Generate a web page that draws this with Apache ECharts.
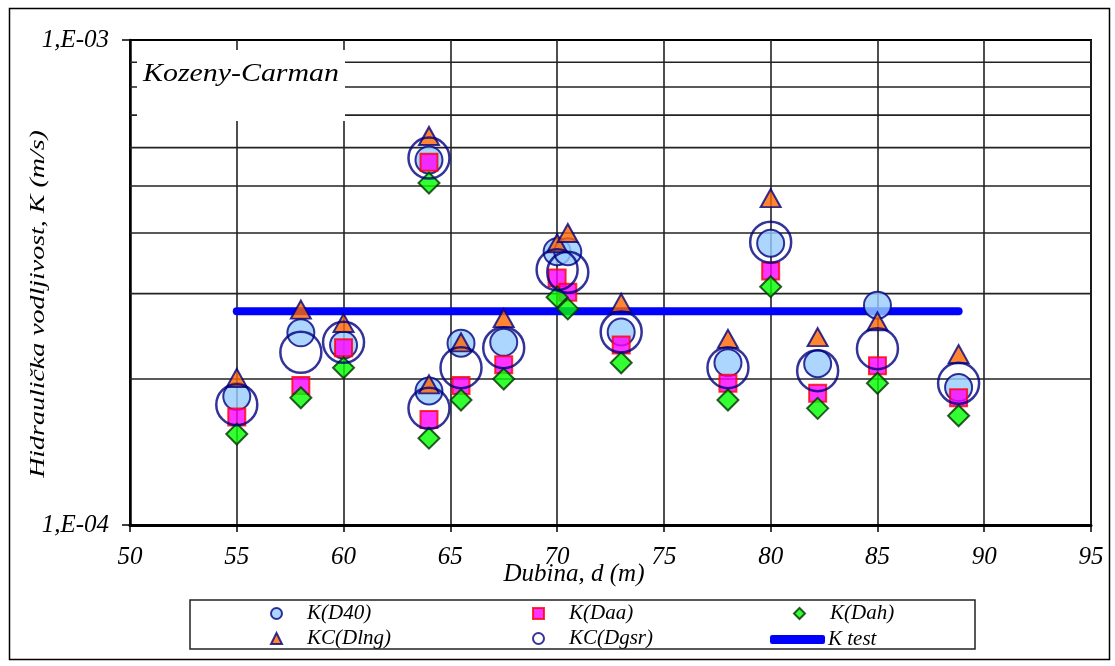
<!DOCTYPE html>
<html>
<head>
<meta charset="utf-8">
<script src="https://cdn.jsdelivr.net/npm/echarts@6/dist/echarts.min.js"></script>
<style>
html,body{margin:0;padding:0;background:#fff;}
#chart{width:1115px;height:666px;}
</style>
</head>
<body>
<div id="chart"></div>
<script>
// ---- data ----
const depth  = [55, 58, 60, 64, 64, 65.5, 67.5, 70, 70.5, 73, 78, 80, 82.2, 85, 88.8];
const kD40   = [1.84e-4, 2.49e-4, 2.35e-4, 1.89e-4, 5.66e-4, 2.37e-4, 2.38e-4, 3.66e-4, 3.66e-4, 2.50e-4, 2.16e-4, 3.81e-4, 2.15e-4, 2.84e-4, 1.92e-4];
const kDaa   = [1.67e-4, 1.94e-4, 2.32e-4, 1.65e-4, 5.60e-4, 1.94e-4, 2.14e-4, 3.23e-4, 3.02e-4, 2.35e-4, 1.96e-4, 3.34e-4, 1.87e-4, 2.13e-4, 1.83e-4];
const kDah   = [1.54e-4, 1.83e-4, 2.11e-4, 1.51e-4, 5.07e-4, 1.81e-4, 2.00e-4, 2.95e-4, 2.79e-4, 2.16e-4, 1.81e-4, 3.10e-4, 1.74e-4, 1.96e-4, 1.68e-4];
const kcDlng = [2.01e-4, 2.78e-4, 2.61e-4, 1.95e-4, 6.34e-4, 2.38e-4, 2.67e-4, 3.81e-4, 4.00e-4, 2.87e-4, 2.42e-4, 4.72e-4, 2.44e-4, 2.63e-4, 2.25e-4];
const kcDgsr = [1.77e-4, 2.27e-4, 2.38e-4, 1.74e-4, 5.71e-4, 2.11e-4, 2.32e-4, 3.36e-4, 3.32e-4, 2.50e-4, 2.11e-4, 3.83e-4, 2.08e-4, 2.31e-4, 1.96e-4];
const kTestDepth = [55, 88.8];
const kTest      = [2.76e-4, 2.76e-4];
const xMin = 50, xMax = 95, xStep = 5;
const yTicks      = [1e-4, 1e-3];
const yTickLabels = ['1,E-04', '1,E-03'];
const yMinorGrid  = [2e-4, 3e-4, 4e-4, 5e-4, 6e-4, 7e-4, 8e-4, 9e-4];

const FONT = 'Liberation Serif, Times New Roman, serif';
const pairs = (xs, ys) => xs.map((x, i) => [x, ys[i]]);

const chart = echarts.init(document.getElementById('chart'), null, {renderer: 'canvas'});

const legendCommon = {
  orient: 'horizontal', padding: 0, itemWidth: 11, itemHeight: 11,
  textStyle: {fontFamily: FONT, fontStyle: 'italic', fontSize: 21, color: '#000', padding: [0, 0, 0, 20]},
  selectedMode: false
};

// minor horizontal gridlines drawn as plain line series across the axis range
const minorGridSeries = yMinorGrid.map(v => ({
  name: 'grid ' + v, type: 'line', data: [[xMin, v], [xMax, v]], symbol: 'none', silent: true, z: 1,
  lineStyle: {color: '#222', width: 1.6}, emphasis: {disabled: true}, tooltip: {show: false}
}));

const option = {
  animation: false,
  backgroundColor: '#fff',
  grid: {left: 130, top: 40, right: 24, bottom: 141, show: true, borderColor: '#000', borderWidth: 2, backgroundColor: 'transparent'},
  xAxis: {
    type: 'value', min: xMin, max: xMax, interval: xStep,
    axisLine: {show: true, lineStyle: {color: '#000', width: 3}},
    axisTick: {show: true, length: 7, lineStyle: {color: '#000', width: 1.5}},
    axisLabel: {fontFamily: FONT, fontStyle: 'italic', fontSize: 25, color: '#000', margin: 20},
    splitLine: {show: true, lineStyle: {color: '#222', width: 1.6}}
  },
  yAxis: {
    type: 'log', logBase: 10, min: 1e-4, max: 1e-3,
    axisLine: {show: true, lineStyle: {color: '#000', width: 2.5}},
    axisTick: {show: true, length: 8, lineStyle: {color: '#000', width: 1.5}},
    axisLabel: {
      fontFamily: FONT, fontStyle: 'italic', fontSize: 25, color: '#000', margin: 21,
      formatter: function (v) {
        let best = 0;
        yTicks.forEach((t, i) => { if (Math.abs(Math.log10(t) - Math.log10(v)) < Math.abs(Math.log10(yTicks[best]) - Math.log10(v))) best = i; });
        return yTickLabels[best];
      }
    },
    splitLine: {show: true, lineStyle: {color: '#000', width: 2}}
  },
  legend: [
    Object.assign({}, legendCommon, {data: ['K(D40)'], left: 270, top: 603}),
    Object.assign({}, legendCommon, {data: ['K(Daa)'], left: 532, top: 603}),
    Object.assign({}, legendCommon, {data: ['K(Dah)'], left: 793, top: 603}),
    Object.assign({}, legendCommon, {data: ['KC(Dlng)'], left: 270, top: 628}),
    Object.assign({}, legendCommon, {data: ['KC(Dgsr)'], left: 532, top: 628}),
    Object.assign({}, legendCommon, {data: [{name: 'K test', icon: 'roundRect'}], left: 770, top: 629, itemWidth: 55, itemHeight: 9,
      textStyle: {fontFamily: FONT, fontStyle: 'italic', fontSize: 21, color: '#000', padding: [0, 0, 0, -2]}})
  ],
  graphic: [
    {type: 'rect', z: 100, shape: {x: 9.5, y: 8.5, width: 1100, height: 651}, style: {fill: 'none', stroke: '#000', lineWidth: 1.5}, silent: true},
    {type: 'rect', z: 100, shape: {x: 190, y: 600, width: 785, height: 49}, style: {fill: 'none', stroke: '#222', lineWidth: 1.5}, silent: true},
    {type: 'rect', z: 50, shape: {x: 137, y: 50, width: 208, height: 71}, style: {fill: '#fff'}, silent: true},
    {type: 'text', z: 51, x: 143, y: 74, scaleX: 1.15, style: {text: 'Kozeny-Carman', fontFamily: FONT, fontStyle: 'italic', fontSize: 26, fill: '#000', align: 'left', verticalAlign: 'middle'}, silent: true},
    {type: 'text', z: 51, x: 38, y: 304, rotation: Math.PI / 2, scaleX: 1.27, style: {text: 'Hidraulička vodljivost, K (m/s)', fontFamily: FONT, fontStyle: 'italic', fontSize: 22, fill: '#000', align: 'center', verticalAlign: 'middle'}, silent: true},
    {type: 'text', z: 51, x: 574, y: 574, style: {text: 'Dubina, d (m)', fontFamily: FONT, fontStyle: 'italic', fontSize: 25, fill: '#000', align: 'center', verticalAlign: 'middle'}, silent: true}
  ],
  series: minorGridSeries.concat([
    {
      name: 'K test', type: 'line', data: pairs(kTestDepth, kTest), symbol: 'none', z: 6,
      color: '#0000FF', lineStyle: {color: '#0000FF', width: 8, cap: 'round'},
      emphasis: {disabled: true}
    },
    {
      name: 'K(D40)', type: 'scatter', data: pairs(depth, kD40), symbol: 'circle', symbolSize: 27, z: 7,
      itemStyle: {color: '#99CCFF', borderColor: '#000080', borderWidth: 2}, emphasis: {disabled: true}
    },
    {
      name: 'K(Daa)', type: 'scatter', data: pairs(depth, kDaa), symbol: 'rect', symbolSize: 17, z: 7,
      itemStyle: {color: '#FF00FF', borderColor: '#FF0000', borderWidth: 2}, emphasis: {disabled: true}
    },
    {
      name: 'K(Dah)', type: 'scatter', data: pairs(depth, kDah), symbol: 'diamond', symbolSize: [21, 21], z: 7,
      itemStyle: {color: '#00FF00', borderColor: '#003300', borderWidth: 2}, emphasis: {disabled: true}
    },
    {
      name: 'KC(Dlng)', type: 'scatter', data: pairs(depth, kcDlng), symbol: 'triangle', symbolSize: [20, 18], z: 7,
      itemStyle: {color: '#FF6600', borderColor: '#000080', borderWidth: 2}, emphasis: {disabled: true}
    },
    {
      name: 'KC(Dgsr)', type: 'scatter', data: pairs(depth, kcDgsr), symbol: 'circle', symbolSize: 41, z: 7,
      itemStyle: {color: 'rgba(255,255,255,0)', borderColor: '#000080', borderWidth: 2.5}, emphasis: {disabled: true}
    }
  ])
};
chart.setOption(option);
</script>
</body>
</html>
